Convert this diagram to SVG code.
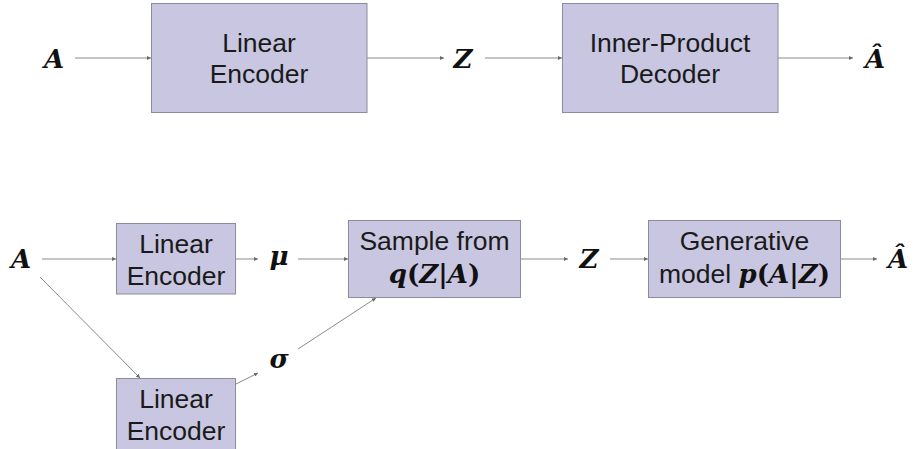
<svg xmlns="http://www.w3.org/2000/svg" width="915" height="449" viewBox="0 0 915 449">
<defs>
<style>
.box{fill:#c8c6e1;stroke:#8c8b9c;stroke-width:1}
.lbl{font-family:"Liberation Sans",Arial,sans-serif;font-size:26.5px;fill:#1a1a1a;text-anchor:middle}
.m{font-family:"DejaVu Serif","Liberation Serif",serif;font-weight:bold;font-style:italic;font-size:26px;fill:#111;text-anchor:middle}
.up{font-style:normal}
.c{stroke:#8a8a8a;stroke-width:1;fill:none;marker-end:url(#ah)}
</style>
<marker id="ah" viewBox="0 0 10 10" refX="10" refY="5" markerWidth="4" markerHeight="4" orient="auto" markerUnits="userSpaceOnUse">
<path d="M0,0 L10,5 L0,10 z" fill="#6a6a6a"/>
</marker>
</defs>
<g id="connectors">
<line class="c" x1="75" y1="58" x2="151" y2="58"/>
<line class="c" x1="367" y1="58" x2="444" y2="58"/>
<line class="c" x1="485" y1="58" x2="562" y2="58"/>
<line class="c" x1="778" y1="58" x2="853" y2="58"/>
<line class="c" x1="42" y1="259" x2="116" y2="259"/>
<line class="c" x1="236" y1="259" x2="258" y2="259"/>
<line class="c" x1="298" y1="259" x2="348" y2="259"/>
<line class="c" x1="521" y1="259" x2="568" y2="259"/>
<line class="c" x1="610" y1="259" x2="648" y2="259"/>
<line class="c" x1="841" y1="259" x2="877" y2="259"/>
<line class="c" x1="40" y1="277" x2="140" y2="378"/>
<line class="c" x1="236" y1="384" x2="258" y2="373"/>
<line class="c" x1="298" y1="349" x2="376" y2="298"/>
</g>
<g id="A-top"><text class="m" x="54" y="68">A</text></g>
<g id="linear-encoder-top">
<rect class="box" x="151.5" y="3.5" width="215.5" height="109"/>
<text class="lbl" x="259" y="52">Linear</text>
<text class="lbl" x="259" y="83">Encoder</text>
</g>
<g id="Z-top"><text class="m" x="463" y="68">Z</text></g>
<g id="inner-product-decoder">
<rect class="box" x="562.5" y="3.5" width="215.5" height="109"/>
<text class="lbl" x="670" y="52">Inner-Product</text>
<text class="lbl" x="670" y="83">Decoder</text>
</g>
<g id="Ahat-top"><text class="m" x="875" y="68">Â</text></g>
<g id="A-bottom"><text class="m" x="21" y="268">A</text></g>
<g id="linear-encoder-mu">
<rect class="box" x="116.5" y="223.5" width="119" height="70.5"/>
<text class="lbl" x="176" y="253">Linear</text>
<text class="lbl" x="176" y="285">Encoder</text>
</g>
<g id="linear-encoder-sigma">
<rect class="box" x="116.5" y="378.5" width="119" height="80"/>
<text class="lbl" x="176" y="408">Linear</text>
<text class="lbl" x="176" y="440">Encoder</text>
</g>
<g id="mu"><text class="m" x="279" y="265">μ</text></g>
<g id="sigma"><text class="m" x="279" y="368">σ</text></g>
<g id="sample">
<rect class="box" x="348.5" y="220.5" width="172" height="77"/>
<text class="lbl" x="434.5" y="250">Sample from</text>
<text class="m" x="434.5" y="283">q<tspan class="up">(</tspan>Z<tspan class="up">|</tspan>A<tspan class="up">)</tspan></text>
</g>
<g id="Z-bottom"><text class="m" x="589" y="268">Z</text></g>
<g id="generative">
<rect class="box" x="648.5" y="220.5" width="192" height="77"/>
<text class="lbl" x="744.5" y="250">Generative</text>
<text x="744.5" y="283" style="text-anchor:middle"><tspan style="font-family:'Liberation Sans',Arial,sans-serif;font-size:26.5px;fill:#1a1a1a">model </tspan><tspan style="font-family:'DejaVu Serif','Liberation Serif',serif;font-weight:bold;font-size:26px;fill:#111"><tspan font-style="italic">p</tspan>(<tspan font-style="italic">A</tspan>|<tspan font-style="italic">Z</tspan>)</tspan></text>
</g>
<g id="Ahat-bottom"><text class="m" x="898" y="268">Â</text></g>
</svg>
